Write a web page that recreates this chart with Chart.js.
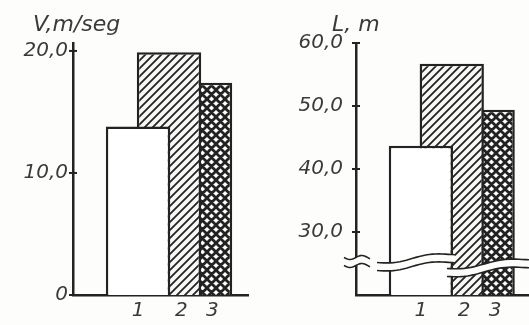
<!DOCTYPE html>
<html>
<head>
<meta charset="utf-8">
<script src="https://cdn.jsdelivr.net/npm/chart.js@4/dist/chart.umd.min.js"></script>
<style>
  html, body { margin: 0; padding: 0; background: #fdfdfb; }
  #wrap { display: flex; width: 529px; height: 325px; }
  .panel { position: relative; height: 325px; }
  #left { width: 262px; }
  #right { width: 267px; }
</style>
</head>
<body>
<div id="wrap">
  <div class="panel" id="left"><canvas id="speedChart"></canvas></div>
  <div class="panel" id="right"><canvas id="distChart"></canvas></div>
</div>
<script>
// --- DATA ---
const categories = ['1', '2', '3'];
const barX = [1, 2, 3];           // bar centres on the x scale
const labelX = [1, 2.4, 3.4];     // where the 1 2 3 labels sit
const speed = [13.8, 19.9, 17.4];
const distance = [43.7, 56.7, 49.4];
const speedTicks = [0, 10, 20];
const distTicks = [30, 40, 50, 60];

// --- STYLE ---
const BG = '#fdfdfb';
const INK = '#232323';
const TEXT = '#3a3a3a';
const FONT = { family: '"DejaVu Sans", sans-serif', size: 20, style: 'italic' };

function diagTile(size, width, both, bg) {
    const c = document.createElement('canvas');
    c.width = c.height = size;
    const g = c.getContext('2d');
    g.fillStyle = bg;
    g.fillRect(0, 0, size, size);
    g.strokeStyle = INK;
    g.lineWidth = width;
    g.beginPath();
    g.moveTo(0, size); g.lineTo(size, 0);
    g.moveTo(-2, 2); g.lineTo(2, -2);
    g.moveTo(size - 2, size + 2); g.lineTo(size + 2, size - 2);
    if (both) {
        g.moveTo(0, 0); g.lineTo(size, size);
        g.moveTo(-2, size - 2); g.lineTo(2, size + 2);
        g.moveTo(size - 2, -2); g.lineTo(size + 2, 2);
    }
    g.stroke();
    return g.createPattern(c, 'repeat');
}

const fills = ['#ffffff', diagTile(8, 1.8, false, '#f7f7f5'), diagTile(9, 2.8, true, '#ffffff')];

function fmt(v) {
    return v === 0 ? '0' : v.toFixed(1).replace('.', ',');
}

// --- DECORATION: axis title, tick crosses, axis break ---
function wave(ctx, x0, x1, y0, y1, back) {
    const n = 24;
    for (let k = 0; k <= n; k++) {
        const t = back ? 1 - k / n : k / n;
        const x = x0 + (x1 - x0) * t;
        const y = y0 + (y1 - y0) * t + 2 * Math.sin(t * Math.PI * 2.2);
        if (k === 0 && !back) ctx.moveTo(x, y); else ctx.lineTo(x, y);
    }
}

const decor = {
    id: 'decor',
    afterDraw(chart, args, o) {
        const { ctx, chartArea, scales: { y } } = chart;
        ctx.save();

        if (o.breakAt != null) {
            const py = y.getPixelForValue(o.breakAt);
            const L = chartArea.left;
            o.segments.forEach(([a, b, d0, d1]) => {
                ctx.beginPath();
                wave(ctx, L + a, L + b, py + d0 - 4, py + d1 - 4, false);
                wave(ctx, L + a, L + b, py + d0 + 4, py + d1 + 4, true);
                ctx.closePath();
                ctx.fillStyle = BG;
                ctx.fill();
                ctx.strokeStyle = INK;
                ctx.lineWidth = 1.6;
                ctx.beginPath();
                wave(ctx, L + a, L + b, py + d0 - 4, py + d1 - 4, false);
                ctx.stroke();
                ctx.beginPath();
                wave(ctx, L + a, L + b, py + d0 + 4, py + d1 + 4, false);
                ctx.stroke();
            });
        }

        ctx.strokeStyle = INK;
        ctx.lineWidth = 2;
        y.ticks.forEach(t => {
            const py = y.getPixelForValue(t.value);
            ctx.beginPath();
            ctx.moveTo(chartArea.left - 4, py);
            ctx.lineTo(chartArea.left + 4, py);
            ctx.stroke();
        });

        ctx.font = 'italic 22px "DejaVu Sans", sans-serif';
        ctx.fillStyle = TEXT;
        ctx.textBaseline = 'middle';
        ctx.fillText(o.title, o.titleX, 25);
        ctx.restore();
    }
};

// --- CHARTS ---
function makeChart(id, cfg) {
    return new Chart(document.getElementById(id), {
        type: 'bar',
        data: {
            datasets: cfg.values.map((v, i) => ({
                label: categories[i],
                data: [{ x: barX[i], y: v }],
                backgroundColor: fills[i],
                borderColor: INK,
                borderWidth: 2.5,
                grouped: false,
                barPercentage: 2.08,
                categoryPercentage: 1
            }))
        },
        options: {
            responsive: true,
            maintainAspectRatio: false,
            animation: false,
            layout: { padding: { top: 43, right: cfg.padRight, left: 0, bottom: 0 } },
            plugins: {
                legend: { display: false },
                tooltip: { enabled: false },
                decor: cfg.decor
            },
            scales: {
                x: {
                    type: 'linear',
                    min: -1.1,
                    max: cfg.xMax,
                    offset: false,
                    afterBuildTicks: s => { s.ticks = labelX.map(v => ({ value: v })); },
                    afterFit: s => { s.height = 30; },
                    ticks: { callback: (v, i) => categories[i], font: FONT, color: TEXT, padding: 4, maxRotation: 0, autoSkip: false },
                    grid: { display: false, drawTicks: false },
                    border: { color: INK, width: 2.5 }
                },
                y: {
                    min: cfg.yMin,
                    max: cfg.yMax,
                    afterBuildTicks: s => { s.ticks = cfg.ticks.map(v => ({ value: v })); },
                    afterFit: s => { s.width = cfg.axisX; },
                    ticks: { callback: v => fmt(v), font: FONT, color: TEXT, padding: cfg.labelPad },
                    grid: { display: false, drawTicks: false },
                    border: { color: INK, width: 2.5 }
                }
            }
        },
        plugins: [decor]
    });
}

makeChart('speedChart', {
    values: speed, ticks: speedTicks, yMin: 0, yMax: 20.65,
    xMax: 4.55, axisX: 73, padRight: 14, labelPad: 5,
    decor: { title: 'V,m/seg', titleX: 33 }
});

makeChart('distChart', {
    values: distance, ticks: distTicks, yMin: 20, yMax: 60,
    xMax: 4.5, axisX: 94, padRight: 0, labelPad: 13,
    decor: {
        title: 'L, m', titleX: 70, breakAt: 25,
        segments: [[-12, 14, -2, -2], [21, 99, 3, -6], [91, 173, 9, -1]]
    }
});
</script>
</body>
</html>
